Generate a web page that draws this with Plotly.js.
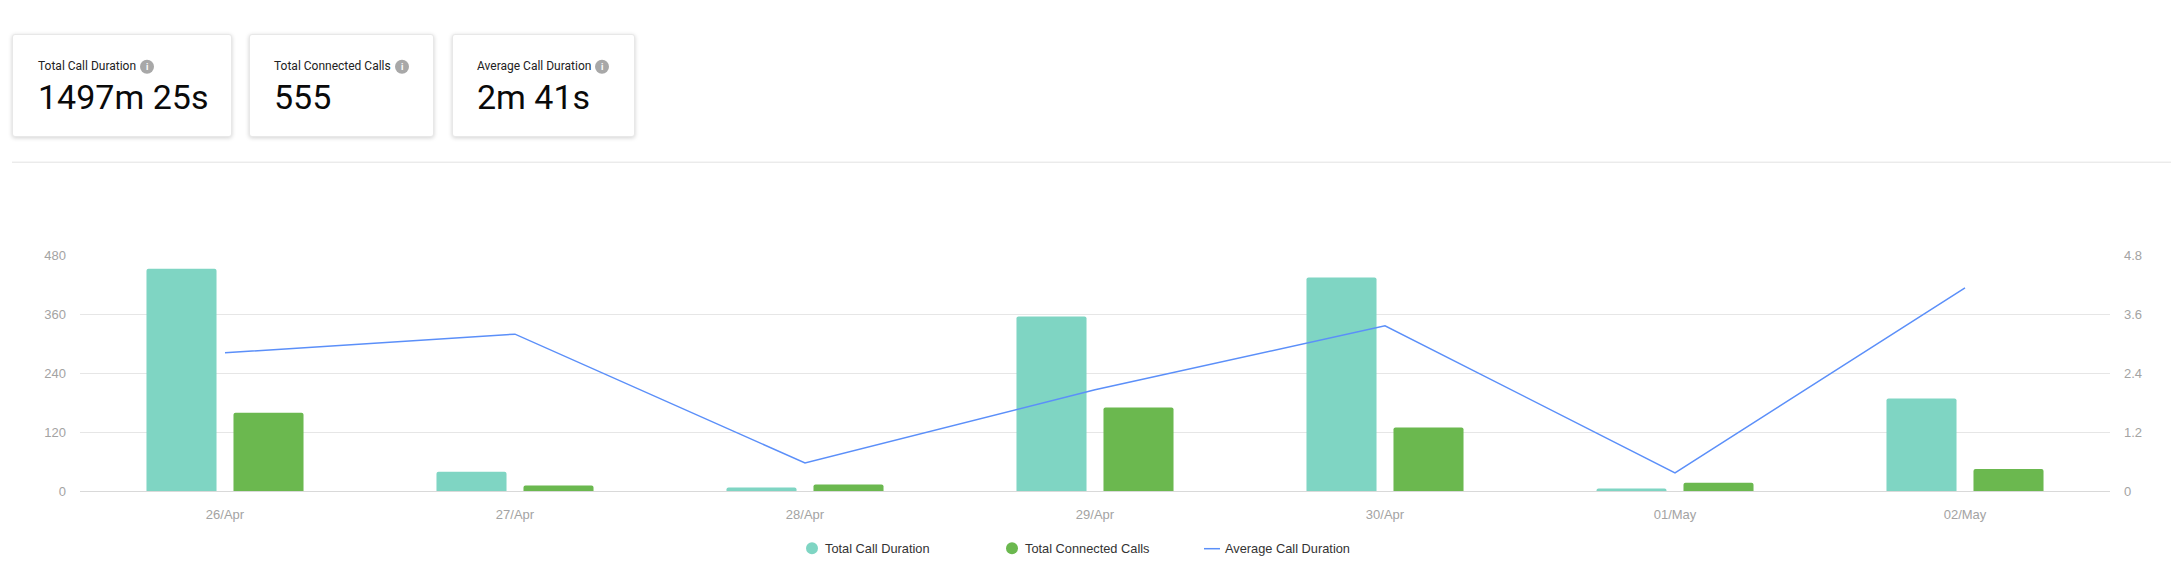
<!DOCTYPE html>
<html>
<head>
<meta charset="utf-8">
<script src="https://cdn.plot.ly/plotly-3.0.1.min.js"></script>
<style>
html,body{margin:0;padding:0;background:#fff;width:2183px;height:582px;overflow:hidden}
.card{position:absolute;top:34px;height:103px;background:#fff;border:1px solid #e8e8e8;border-radius:3px;box-sizing:border-box;box-shadow:0 1px 4px rgba(0,0,0,.18)}
#chart{position:absolute;left:0;top:0;width:2183px;height:582px}
</style>
</head>
<body>
<div class="card" style="left:12px;width:220px"></div>
<div class="card" style="left:248.5px;width:185.5px"></div>
<div class="card" style="left:451.5px;width:183px"></div>
<div id="chart"></div>
<script>
const categories = ['26/Apr','27/Apr','28/Apr','29/Apr','30/Apr','01/May','02/May'];
const totalCallDuration = [452, 39, 7, 355, 434, 5, 188];
const totalConnectedCalls = [159, 11, 13, 170, 129, 17, 45];
const averageCallDuration = [2.81, 3.19, 0.57, 2.06, 3.36, 0.37, 4.13];
const leftTicks = [0, 120, 240, 360, 480];
const rightTicks = [0, 1.2, 2.4, 3.6, 4.8];
const rightTickLabels = ['0', '1.2', '2.4', '3.6', '4.8'];
const kpiLabels = ['Total Call Duration', 'Total Connected Calls', 'Average Call Duration'];
const kpiValues = ['1497m 25s', '555', '2m 41s'];

const TEAL = '#7fd5c3', GREEN = '#6bb84f', BLUE = '#5b8ff9';
const L = 80, R = 2110, T = 255.3, B = 491.3;
const px = x => (x - L) / (R - L);
const py = y => (B - y) / (B - T);

const annotations = [], shapes = [];
function label(x, y, text, size, color, family, anchor) {
  annotations.push({xref:'paper', yref:'paper', x:px(x), y:py(y), text:text, showarrow:false,
    xanchor:anchor || 'left', yanchor:'middle', align:'left', borderpad:0,
    font:{size:size, color:color, family:family}});
}
function dot(cx, cy, r, color) {
  shapes.push({type:'circle', xref:'paper', yref:'paper', x0:px(cx-r), x1:px(cx+r), y0:py(cy+r), y1:py(cy-r),
    fillcolor:color, line:{width:0}, layer:'above'});
}
const kpiX = [36.5, 272.5, 475.5], infoX = [147, 402, 602];
kpiLabels.forEach((t, i) => {
  label(kpiX[i], 66, t, 12, '#222', 'Roboto');
  label(kpiX[i], 97, kpiValues[i], 34, '#0a0a0a', 'Roboto');
  dot(infoX[i], 67, 7, '#a8a8a8');
  label(infoX[i], 67, '<b>i</b>', 9, '#fff', 'Roboto', 'center');
});
shapes.push({type:'line', xref:'paper', yref:'paper', x0:px(12), x1:px(2171), y0:py(162.5), y1:py(162.5), line:{color:'#e3e3e3', width:1}});

const legendFont = '"Liberation Sans", Arial, sans-serif';
dot(812, 548.5, 6, TEAL);
label(824, 549, kpiLabels[0], 12.8, '#333', legendFont);
dot(1012, 548.5, 6, GREEN);
label(1024, 549, kpiLabels[1], 12.8, '#333', legendFont);
shapes.push({type:'line', xref:'paper', yref:'paper', x0:px(1204), x1:px(1220), y0:py(549), y1:py(549), line:{color:BLUE, width:1.5}});
label(1224, 549, kpiLabels[2], 12.8, '#333', legendFont);

const tickFont = {size:13, color:'#a3a3a3', family:legendFont};
const data = [
  {type:'bar', name:kpiLabels[0], x:categories, y:totalCallDuration, marker:{color:TEAL, line:{width:0}}, hoverinfo:'x+y'},
  {type:'bar', name:kpiLabels[1], x:categories, y:totalConnectedCalls, marker:{color:GREEN, line:{width:0}}, hoverinfo:'x+y'},
  {type:'scatter', mode:'lines', name:kpiLabels[2], x:categories, y:averageCallDuration, yaxis:'y2', line:{color:BLUE, width:1.5}, hoverinfo:'x+y'}
];
const layout = {
  width:2183, height:582, autosize:false, showlegend:false,
  paper_bgcolor:'rgba(0,0,0,0)', plot_bgcolor:'rgba(0,0,0,0)',
  margin:{l:L, r:2183-R, t:T, b:582-B, pad:0},
  barmode:'group', bargap:0.4, bargroupgap:0.195, barcornerradius:2,
  xaxis:{type:'category', categoryorder:'array', categoryarray:categories, range:[-0.5,6.5], fixedrange:true,
    showgrid:false, zeroline:false, showline:true, linecolor:'#d9d9d9', linewidth:1, ticks:'', tickfont:tickFont, ticklabelstandoff:11},
  yaxis:{range:[0,480], tickmode:'array', tickvals:leftTicks, ticktext:leftTicks.map(String), fixedrange:true,
    showgrid:true, gridcolor:'#e6e6e6', gridwidth:1, zeroline:false, showline:false, ticks:'', tickfont:tickFont, ticklabelstandoff:13},
  yaxis2:{range:[0,4.8], overlaying:'y', side:'right', tickmode:'array', tickvals:rightTicks, ticktext:rightTickLabels, fixedrange:true,
    showgrid:false, zeroline:false, showline:false, ticks:'', tickfont:tickFont, ticklabelstandoff:13},
  annotations:annotations, shapes:shapes
};
Plotly.newPlot('chart', data, layout, {displayModeBar:false, staticPlot:true});
</script>
</body>
</html>
